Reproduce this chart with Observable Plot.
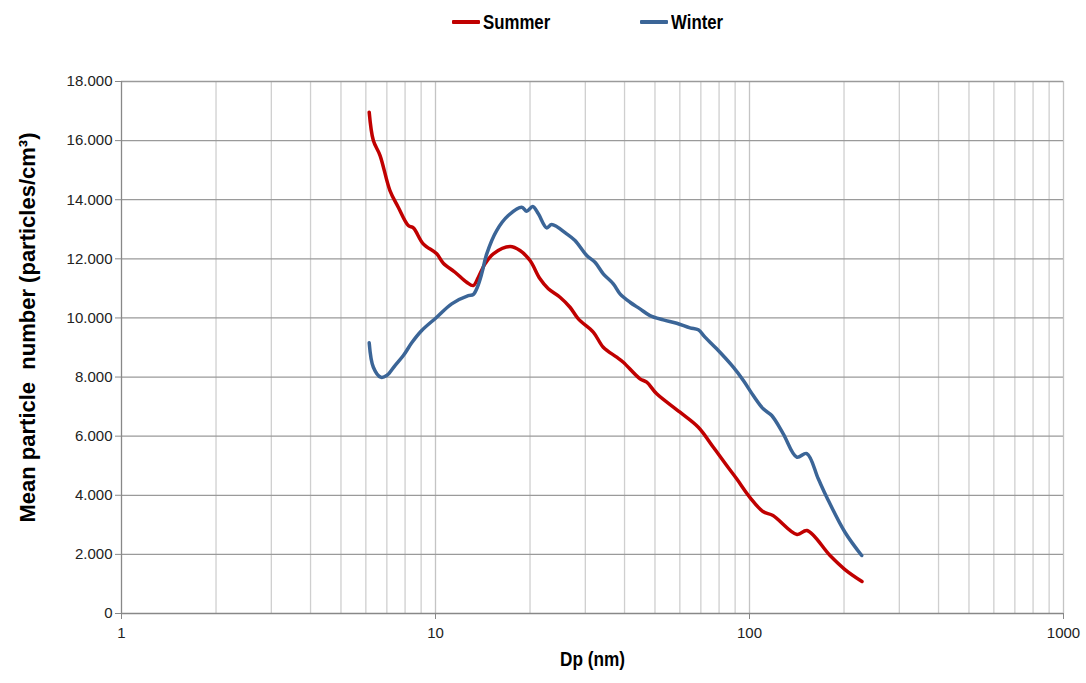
<!DOCTYPE html>
<html>
<head>
<meta charset="utf-8">
<script src="https://cdn.jsdelivr.net/npm/d3@7"></script>
<script src="https://cdn.jsdelivr.net/npm/@observablehq/plot@0.6"></script>
<style>
  body { margin: 0; background: #fff; }
  #legend { position: relative; height: 45px; width: 1086px; font-family: "Liberation Sans Narrow", "Arial Narrow", "Liberation Sans", Arial, sans-serif; font-weight: bold; font-size: 21px; }
  .item { position: absolute; top: 10px; display: flex; align-items: center; }
  .sw { width: 28px; height: 4px; margin-right: 3px; border-radius: 1px; }
  .lab { display: inline-block; transform: scaleX(0.8); transform-origin: left center; }
  #chart svg { display: block; }
</style>
</head>
<body>
<div id="legend"></div>
<div id="chart"></div>
<script>
// Series names & colours
const seriesNames = ["Summer", "Winter"];
const seriesColors = ["#C00000", "#3B6597"];

// Summer: diameter (nm) and concentration (particles/cm3)
const summerDp = [6.15, 6.34, 6.66, 7.16, 7.61, 8.19, 8.50, 9.14, 10.09, 10.59, 11.54, 12.57, 13.19, 13.69, 14.38, 15.28, 17.28, 18.58, 20.0, 21.52, 22.87, 24.92, 26.81, 28.50, 31.8, 34.22, 37.77, 39.63, 44.8, 47.06, 50.64, 60.07, 68.7, 76.7, 84.6, 91.0, 100.4, 110.4, 118.8, 141.7, 152.5, 180.5, 201.4, 228.2];
const summerN = [16960, 16000, 15494, 14310, 13745, 13126, 13048, 12507, 12169, 11851, 11546, 11208, 11096, 11377, 11830, 12169, 12415, 12280, 11942, 11323, 10985, 10700, 10362, 9969, 9523, 9010, 8671, 8502, 7940, 7827, 7432, 6810, 6303, 5626, 5007, 4557, 3924, 3450, 3315, 2672, 2808, 1962, 1488, 1082];

// Winter
const winterDp = [6.15, 6.34, 6.69, 6.99, 7.43, 7.90, 8.40, 9.04, 10.09, 11.26, 12.72, 13.19, 13.59, 14.03, 14.56, 15.66, 17.05, 18.82, 19.52, 20.40, 21.26, 22.60, 23.45, 26.17, 27.82, 30.31, 32.21, 34.22, 36.83, 38.69, 41.63, 44.8, 48.2, 53.15, 58.64, 64.65, 68.7, 72.16, 78.6, 88.8, 95.6, 102.8, 110.6, 117.7, 128.1, 141.4, 152.2, 165.6, 176.2, 201.4, 227.7];
const winterN = [9158, 8332, 7995, 8050, 8390, 8728, 9158, 9574, 10024, 10477, 10758, 10792, 11040, 11492, 12169, 12957, 13464, 13745, 13610, 13768, 13522, 13048, 13160, 12845, 12618, 12111, 11884, 11492, 11154, 10816, 10531, 10307, 10081, 9936, 9821, 9665, 9597, 9350, 8955, 8333, 7883, 7375, 6925, 6698, 6079, 5294, 5413, 4557, 3934, 2750, 1962];

// Axis ticks
const xTicks = [1, 10, 100, 1000];
const yTicks = [0, 2000, 4000, 6000, 8000, 10000, 12000, 14000, 16000, 18000];
const xTitle = "Dp (nm)";
const yTitle = "Mean particle\u00a0 number (particles/cm³)";

const data = [
  ...summerDp.map((d, i) => ({series: seriesNames[0], dp: d, n: summerN[i]})),
  ...winterDp.map((d, i) => ({series: seriesNames[1], dp: d, n: winterN[i]}))
];

const minorX = [];
for (const p of [1, 10, 100]) for (let k = 2; k <= 9; k++) minorX.push(k * p);

// Legend
const legend = document.getElementById("legend");
const legendX = [452, 640];
seriesNames.forEach((s, i) => {
  const it = document.createElement("div");
  it.className = "item";
  it.style.left = legendX[i] + "px";
  it.innerHTML = `<span class="sw" style="background:${seriesColors[i]}"></span><span class="lab">${s}</span>`;
  legend.appendChild(it);
});

const fmtY = d => d === 0 ? "0" : (d / 1000).toFixed(3);

const chart = Plot.plot({
  width: 1086,
  height: 638,
  marginTop: 36,
  marginBottom: 70,
  marginLeft: 121,
  marginRight: 23,
  style: {fontFamily: "Liberation Sans, Arial, sans-serif", fontSize: "15px", color: "#222"},
  x: {type: "log", domain: [1, 1000]},
  y: {domain: [0, 18000]},
  color: {domain: seriesNames, range: seriesColors},
  marks: [
    Plot.ruleX(minorX, {stroke: "#cfcfcf", strokeWidth: 1.3}),
    Plot.ruleX([10, 100, 1000], {stroke: "#c4c4c4", strokeWidth: 1.3}),
    Plot.ruleY(yTicks.slice(1), {stroke: "#9a9a9a", strokeWidth: 1.3}),
    Plot.ruleX([1], {stroke: "#888", strokeWidth: 1.3}),
    Plot.ruleY([0], {stroke: "#888", strokeWidth: 1.3}),
    Plot.axisY({ticks: yTicks, tickFormat: fmtY, tickSize: 6, tickPadding: 3, stroke: "#888", label: null}),
    Plot.axisX({ticks: xTicks, tickFormat: d => String(d), tickSize: 6, tickPadding: 8, stroke: "#888", label: null}),
    Plot.line(data, {x: "dp", y: "n", z: "series", stroke: "series", strokeWidth: 3.5, curve: "catmull-rom", strokeLinejoin: "round", strokeLinecap: "round"}),
    Plot.text([xTitle], {frameAnchor: "bottom", dy: 52, fontWeight: "bold", fontSize: 21, fill: "#000", textAnchor: "middle"}),
    Plot.text([yTitle], {frameAnchor: "left", dx: -94, dy: -20, rotate: -90, textAnchor: "middle", fontWeight: "bold", fontSize: 22, fill: "#000"})
  ]
});
// condense the x-axis title like the narrow font of the original
d3.select(chart).selectAll("text").filter(function() { return this.textContent === xTitle; })
  .each(function() {
    const t = this.getAttribute("transform") || "";
    this.setAttribute("transform", (t + " scale(0.82,1)").trim());
  });
document.getElementById("chart").appendChild(chart);
</script>
</body>
</html>
